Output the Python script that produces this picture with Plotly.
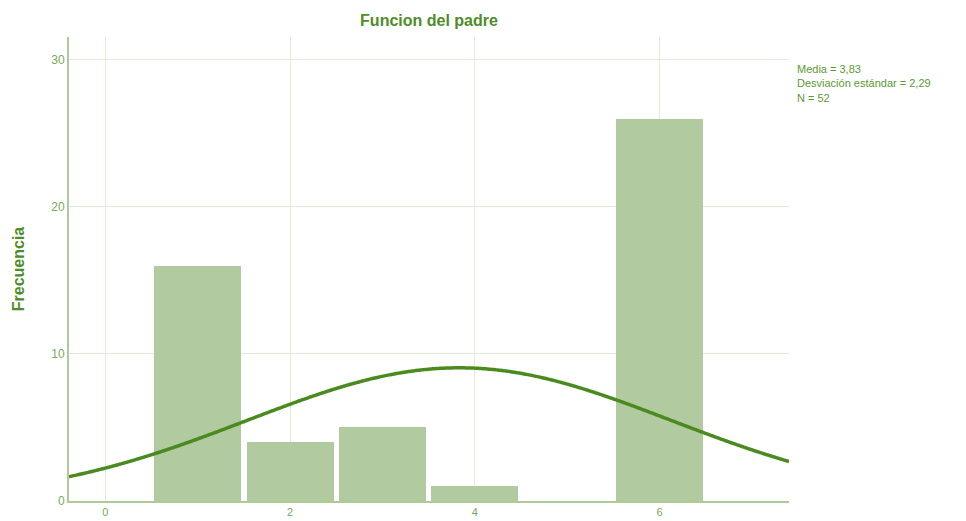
import numpy as np
import plotly.graph_objects as go

# Data
categories = [1, 2, 3, 4, 6]
frequencies = [16, 4, 5, 1, 26]
media = 3.83
desviacion = 2.29
n_total = 52
x_ticks = [0, 2, 4, 6]
y_ticks = [0, 10, 20, 30]

x_range = [-0.393, 7.40]
y_range = [0, 31.56]

# Normal curve fitted with the stated mean / sd / N (bin width 1)
xc = np.linspace(x_range[0], x_range[1], 300)
yc = n_total * 1.0 / (desviacion * np.sqrt(2 * np.pi)) * np.exp(-0.5 * ((xc - media) / desviacion) ** 2)

GREEN_TXT = "#5b9a33"
fig = go.Figure()
fig.add_trace(go.Bar(
    x=categories, y=frequencies, width=0.94,
    marker=dict(color="#b2ca9f", line=dict(color="#b2ca9f", width=0)),
    hoverinfo="x+y", showlegend=False,
))
fig.add_trace(go.Scatter(
    x=xc, y=yc, mode="lines",
    line=dict(color="#4b8a1f", width=3.5, shape="spline"),
    hoverinfo="skip", showlegend=False, cliponaxis=True,
))

fig.update_layout(
    width=966, height=521,
    margin=dict(l=69, r=177, t=37, b=20, autoexpand=False),
    paper_bgcolor="white", plot_bgcolor="white",
    font=dict(family="Liberation Sans, Arial, sans-serif", color=GREEN_TXT),
    title=dict(text="<b>Funcion del padre</b>", x=(69 + 789) / 2 / 966, xanchor="center",
               y=1 - 20 / 521, yanchor="middle",
               font=dict(size=16, color="#4e8d27")),
    bargap=0,
    xaxis=dict(range=x_range, tickvals=x_ticks, ticktext=[str(v) for v in x_ticks],
               showgrid=True, gridcolor="#e0ecd7", gridwidth=1,
               zeroline=False, showline=True, linecolor="#aecb96", linewidth=2,
               ticks="", tickfont=dict(size=11, color="#79a95a"), automargin=False,
               fixedrange=True),
    yaxis=dict(range=y_range, tickvals=y_ticks, ticktext=[str(v) for v in y_ticks],
               showgrid=True, gridcolor="#e0ecd7", gridwidth=1,
               zeroline=False, showline=True, linecolor="#aecb96", linewidth=2,
               ticks="", tickfont=dict(size=12, color="#79a95a"), automargin=False,
               title=dict(text="<b>Frecuencia</b>", font=dict(size=16, color="#4e8d27"), standoff=23),
               fixedrange=True),
    annotations=[dict(
        xref="paper", yref="paper", x=(795 - 69) / (789 - 69), y=(501 - 61) / (501 - 37),
        xanchor="left", yanchor="top", align="left", showarrow=False,
        text="Media = 3,83<br>Desviación estándar = 2,29<br>N = 52",
        font=dict(size=11, color=GREEN_TXT),
    )],
)

fig.write_html("out.html", config={"displayModeBar": False},
               post_script="document.body.style.margin='0';document.body.style.padding='0';")
